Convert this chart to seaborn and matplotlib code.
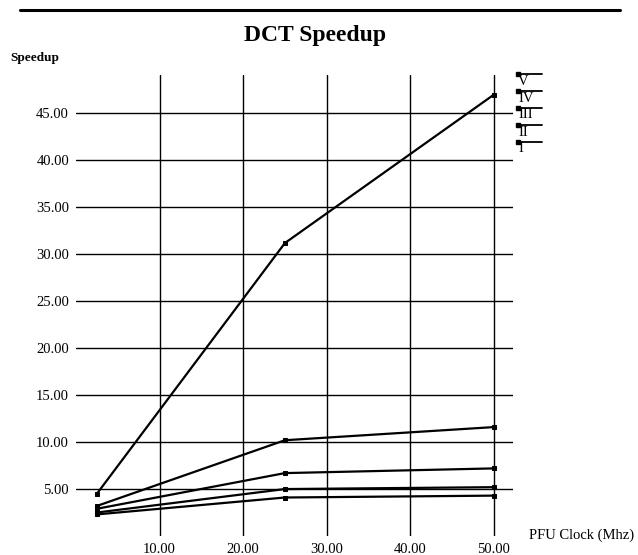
import matplotlib
matplotlib.use("Agg")
import matplotlib.pyplot as plt
from matplotlib.lines import Line2D
import seaborn as sns
import pandas as pd

clock_mhz = [2.5, 25, 50]
series_names = ["V", "IV", "III", "II", "I"]
speedup_V = [4.5, 31.2, 47.0]
speedup_IV = [3.2, 10.2, 11.6]
speedup_III = [2.9, 6.7, 7.2]
speedup_II = [2.5, 5.0, 5.2]
speedup_I = [2.3, 4.1, 4.3]
x_ticks = [10, 20, 30, 40, 50]
y_ticks = [5, 10, 15, 20, 25, 30, 35, 40, 45]

values = [speedup_V, speedup_IV, speedup_III, speedup_II, speedup_I]
rows = []
for name, vals in zip(series_names, values):
    for x, v in zip(clock_mhz, vals):
        rows.append({"clock": x, "speedup": v, "series": name})
df = pd.DataFrame(rows)

sns.set_style("white")
plt.rcParams["font.family"] = ["Liberation Serif", "DejaVu Serif"]
plt.rcParams["text.color"] = "black"
plt.rcParams["xtick.color"] = "black"
plt.rcParams["ytick.color"] = "black"

W, H = 638, 555
fig = plt.figure(figsize=(W / 100, H / 100), dpi=100)
ax = fig.add_axes([76 / W, 1 - 536 / H, (513 - 76) / W, (536 - 75) / H])

for v in y_ticks:
    ax.axhline(v, color="black", lw=1.0, zorder=1)
for v in x_ticks:
    ax.axvline(v, color="black", lw=1.0, zorder=1)

sns.lineplot(data=df, x="clock", y="speedup", hue="series",
             palette=["black"] * 5, marker="s", markersize=3,
             markeredgecolor="black", lw=1.6, legend=False, ax=ax, zorder=3)

ax.set_xlim(0, 52.3)
ax.set_ylim(0, 49.1)
ax.set_xticks(x_ticks)
ax.set_yticks(y_ticks)
ax.set_xticklabels([f"{v:.2f}" for v in x_ticks], fontsize=10.5)
ax.set_yticklabels([f"{v:.2f}" for v in y_ticks], fontsize=10.5)
ax.tick_params(length=0, pad=5, colors="black")
ax.set_xlabel("")
ax.set_ylabel("")
for s in ax.spines.values():
    s.set_visible(False)

# title and axis captions
fig.text(315 / W, 1 - 35 / H, "DCT Speedup", ha="center", va="center",
         fontsize=17, fontweight="bold", color="black")
fig.text(10 / W, 1 - 58 / H, "Speedup", ha="left", va="center",
         fontsize=9.5, fontweight="bold", color="black")
fig.text(529 / W, 1 - 535 / H, "PFU Clock (Mhz)", ha="left", va="center",
         fontsize=10.5, color="black")

# top rule
fig.add_artist(Line2D([20 / W, 620 / W], [1 - 10 / H, 1 - 10 / H],
                      color="black", lw=2.2))

# legend
for i, name in enumerate(series_names):
    ly = 74 + 17 * i
    fig.add_artist(Line2D([517 / W, 542 / W], [1 - ly / H, 1 - ly / H],
                          color="black", lw=1.3))
    fig.add_artist(Line2D([518 / W], [1 - ly / H], color="black",
                          marker="s", markersize=2.5, lw=0))
    fig.text(518 / W, 1 - (ly + 7) / H, name, ha="left", va="center",
             fontsize=10.5, color="black")

fig.savefig("out.png", dpi=100)
